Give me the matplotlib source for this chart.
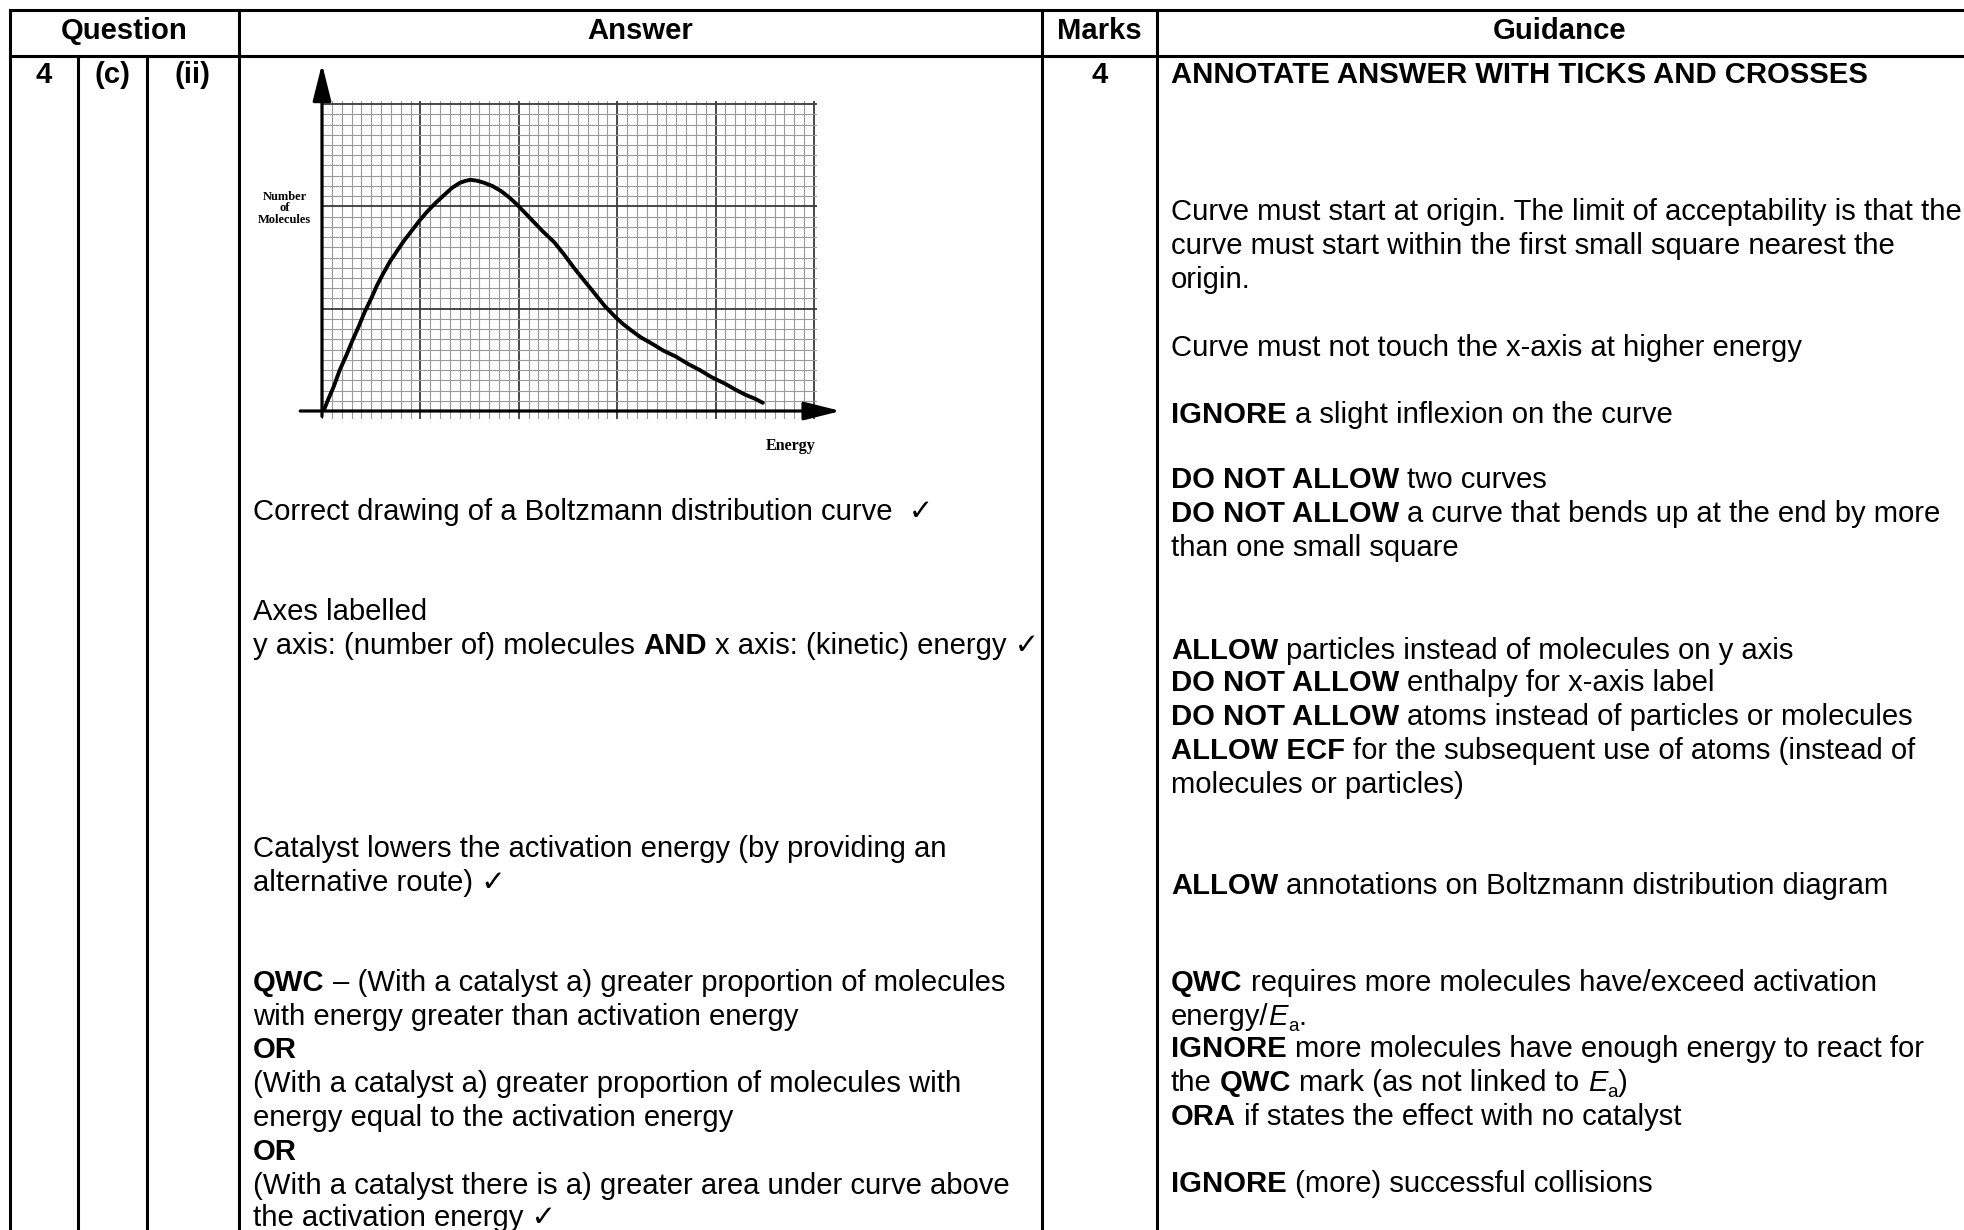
import numpy as np
import matplotlib
matplotlib.use("Agg")
import matplotlib.pyplot as plt

FAM = ['Liberation Sans', 'DejaVu Sans']
FS = 21.1  # pt, about 29 px at 100 dpi

# Boltzmann curve (small squares)
energy = [0.2, 0.7, 1.2, 1.8, 2.5, 3.1, 3.7, 4.3, 5.0, 5.6, 6.2, 6.9, 7.6, 8.3,
          9.1, 9.9, 10.7, 11.5, 12.4, 13.2, 14.0, 14.6, 15.1, 15.8, 16.5, 17.3,
          18.2, 19.0, 19.8, 20.6, 21.5, 22.5, 23.6, 24.6, 25.6, 26.6, 27.7,
          28.7, 29.8, 30.6, 31.4, 32.4, 33.5, 34.7, 36.0, 37.2, 38.4, 39.6,
          40.9, 42.0, 43.0, 44.0, 44.8]
molecules = [0.1, 1.3, 2.4, 4.0, 5.5, 6.9, 8.2, 9.6, 11.0, 12.3, 13.4, 14.6,
             15.6, 16.6, 17.6, 18.6, 19.5, 20.3, 21.1, 21.8, 22.3, 22.5, 22.6,
             22.5, 22.3, 22.0, 21.5, 20.9, 20.2, 19.4, 18.5, 17.5, 16.5, 15.3,
             14.0, 12.8, 11.5, 10.3, 9.2, 8.5, 7.9, 7.2, 6.6, 5.9, 5.3, 4.6,
             4.0, 3.3, 2.7, 2.1, 1.6, 1.2, 0.8]

headers = ["Question", "Answer", "Marks", "Guidance"]
question_parts = ["4", "(c)", "(ii)"]
marks = "4"

# (baseline y in px, runs) ; style r=regular b=bold i=italic s=subscript
answer_lines = [
    (520, [("Correct drawing of a Boltzmann distribution curve  \u2713", "r")]),
    (620, [("Axes labelled", "r")]),
    (654, [("y axis: (number of) molecules ", "r"), ("AND", "b"),
           (" x axis: (kinetic) energy \u2713", "r")]),
    (857, [("Catalyst lowers the activation energy (by providing an", "r")]),
    (891, [("alternative route) \u2713", "r")]),
    (991, [("QWC", "b"), (" \u2013 (With a catalyst a) greater proportion of molecules", "r")]),
    (1025, [("with energy greater than activation energy", "r")]),
    (1058, [("OR", "b")]),
    (1092, [("(With a catalyst a) greater proportion of molecules with", "r")]),
    (1126, [("energy equal to the activation energy", "r")]),
    (1160, [("OR", "b")]),
    (1194, [("(With a catalyst there is a) greater area under curve above", "r")]),
    (1226, [("the activation energy \u2713", "r")]),
]

guidance_lines = [
    (83, [("ANNOTATE ANSWER WITH TICKS AND CROSSES", "b")]),
    (220, [("Curve must start at origin. The limit of acceptability is that the", "r")]),
    (254, [("curve must start within the first small square nearest the", "r")]),
    (288, [("origin.", "r")]),
    (356, [("Curve must not touch the x-axis at higher energy", "r")]),
    (423, [("IGNORE", "b"), (" a slight inflexion on the curve", "r")]),
    (488, [("DO NOT ALLOW", "b"), (" two curves", "r")]),
    (522, [("DO NOT ALLOW", "b"), (" a curve that bends up at the end by more", "r")]),
    (556, [("than one small square", "r")]),
    (659, [("ALLOW", "b"), (" particles instead of molecules on y axis", "r")]),
    (691, [("DO NOT ALLOW", "b"), (" enthalpy for x-axis label", "r")]),
    (725, [("DO NOT ALLOW", "b"), (" atoms instead of particles or molecules", "r")]),
    (759, [("ALLOW ECF", "b"), (" for the subsequent use of atoms (instead of", "r")]),
    (793, [("molecules or particles)", "r")]),
    (894, [("ALLOW", "b"), (" annotations on Boltzmann distribution diagram", "r")]),
    (991, [("QWC", "b"), (" requires more molecules have/exceed activation", "r")]),
    (1025, [("energy/", "r"), ("E", "i"), ("a", "s"), (".", "r")]),
    (1057, [("IGNORE", "b"), (" more molecules have enough energy to react for", "r")]),
    (1091, [("the ", "r"), ("QWC", "b"), (" mark (as not linked to ", "r"),
            ("E", "i"), ("a", "s"), (")", "r")]),
    (1125, [("ORA", "b"), (" if states the effect with no catalyst", "r")]),
    (1192, [("IGNORE", "b"), (" (more) successful collisions", "r")]),
]

fig = plt.figure(figsize=(19.64, 12.30), dpi=100)
ax = fig.add_axes([0, 0, 1, 1])
ax.set_xlim(0, 1964)
ax.set_ylim(1230, 0)
ax.axis("off")
renderer = fig.canvas.get_renderer()

# table rules
lw = 2.2
ax.plot([10, 1964], [10, 10], color="black", lw=lw)
ax.plot([10, 1964], [56, 56], color="black", lw=lw)
for xv in [10, 239, 1042, 1157]:
    ax.plot([xv, xv], [10, 1230], color="black", lw=lw)
for xv in [78, 147]:
    ax.plot([xv, xv], [56, 1230], color="black", lw=lw)


def style_kw(st):
    kw = dict(fontsize=FS, family=FAM, fontweight="normal", fontstyle="normal")
    if st == "b":
        kw["fontweight"] = "bold"
    if st == "i":
        kw["fontstyle"] = "italic"
    if st == "s":
        kw["fontsize"] = FS * 0.65
    return kw


def text_width(s, st):
    t = ax.text(0, 0, s, **style_kw(st))
    w = t.get_window_extent(renderer).width
    t.remove()
    return w


space_w = {st: text_width("x x", st) - text_width("xx", st) for st in "rbis"}


def draw_runs(x, y, runs):
    for txt, st in runs:
        lead = len(txt) - len(txt.lstrip(" "))
        trail = len(txt) - len(txt.rstrip(" "))
        core = txt.strip(" ")
        x += lead * space_w[st]
        dy = 6 if st == "s" else 0
        t = ax.text(x, y + dy, core, ha="left", va="baseline", **style_kw(st))
        x += t.get_window_extent(renderer).width
        x += trail * space_w[st]


# header
head_x = [124.5, 640.5, 1099.5, 1560]
for hx, h in zip(head_x, headers):
    ax.text(hx, 39, h, ha="center", va="baseline", **style_kw("b"))

for qx, q in zip([44, 112.5, 193], question_parts):
    ax.text(qx, 83, q, ha="center", va="baseline", **style_kw("b"))
ax.text(1099.5, 83, marks, ha="center", va="baseline", **style_kw("b"))

for y, runs in answer_lines:
    draw_runs(253, y, runs)
for y, runs in guidance_lines:
    draw_runs(1171, y, runs)

# graph paper inset, units = small squares
sx, sy = 9.84, 10.23
x0_px, xaxis_px = 322, 411
xmin, xmax, ymin, ymax = 0, 50.3, -0.8, 30.3
left = x0_px / 1964
width = (xmax - xmin) * sx / 1964
bottom_px = xaxis_px - ymin * sy
height_px = (ymax - ymin) * sy
g = fig.add_axes([left, 1 - bottom_px / 1230, width, height_px / 1230])
g.set_xlim(xmin, xmax)
g.set_ylim(ymin, ymax)
g.patch.set_visible(False)
for sp in g.spines.values():
    sp.set_visible(False)
g.set_xticks(np.arange(0, 51, 10))
g.set_yticks(np.arange(0, 31, 10))
g.set_xticks(np.arange(0, 51, 1), minor=True)
g.set_yticks(np.arange(0, 31, 1), minor=True)
g.tick_params(which="both", length=0, labelbottom=False, labelleft=False)
g.grid(which="minor", color="#9a9a9a", lw=0.8)
g.grid(which="major", color="#3a3a3a", lw=1.3)

g.plot(energy, molecules, color="black", lw=2.8, solid_capstyle="round",
       solid_joinstyle="round", zorder=5)

arrow = dict(arrowstyle="-|>,head_length=0.8,head_width=0.2", lw=2.3,
             color="black", mutation_scale=28)
g.annotate("", xy=(0, 34.2), xytext=(0, -0.8), arrowprops=arrow,
           annotation_clip=False)
g.annotate("", xy=(53.0, 0), xytext=(-2.5, 0), arrowprops=arrow,
           annotation_clip=False)

g.text(-3.8, 19.8, "Number\nof\nMolecules", ha="center", va="center",
       family=["Liberation Serif", "DejaVu Serif"], fontweight="bold",
       fontsize=9, linespacing=0.95, clip_on=False)
g.text(47.6, -3.4, "Energy", ha="center", va="center",
       family=["Liberation Serif", "DejaVu Serif"], fontweight="bold",
       fontsize=11.5, clip_on=False)

fig.savefig("out.png", dpi=100)
